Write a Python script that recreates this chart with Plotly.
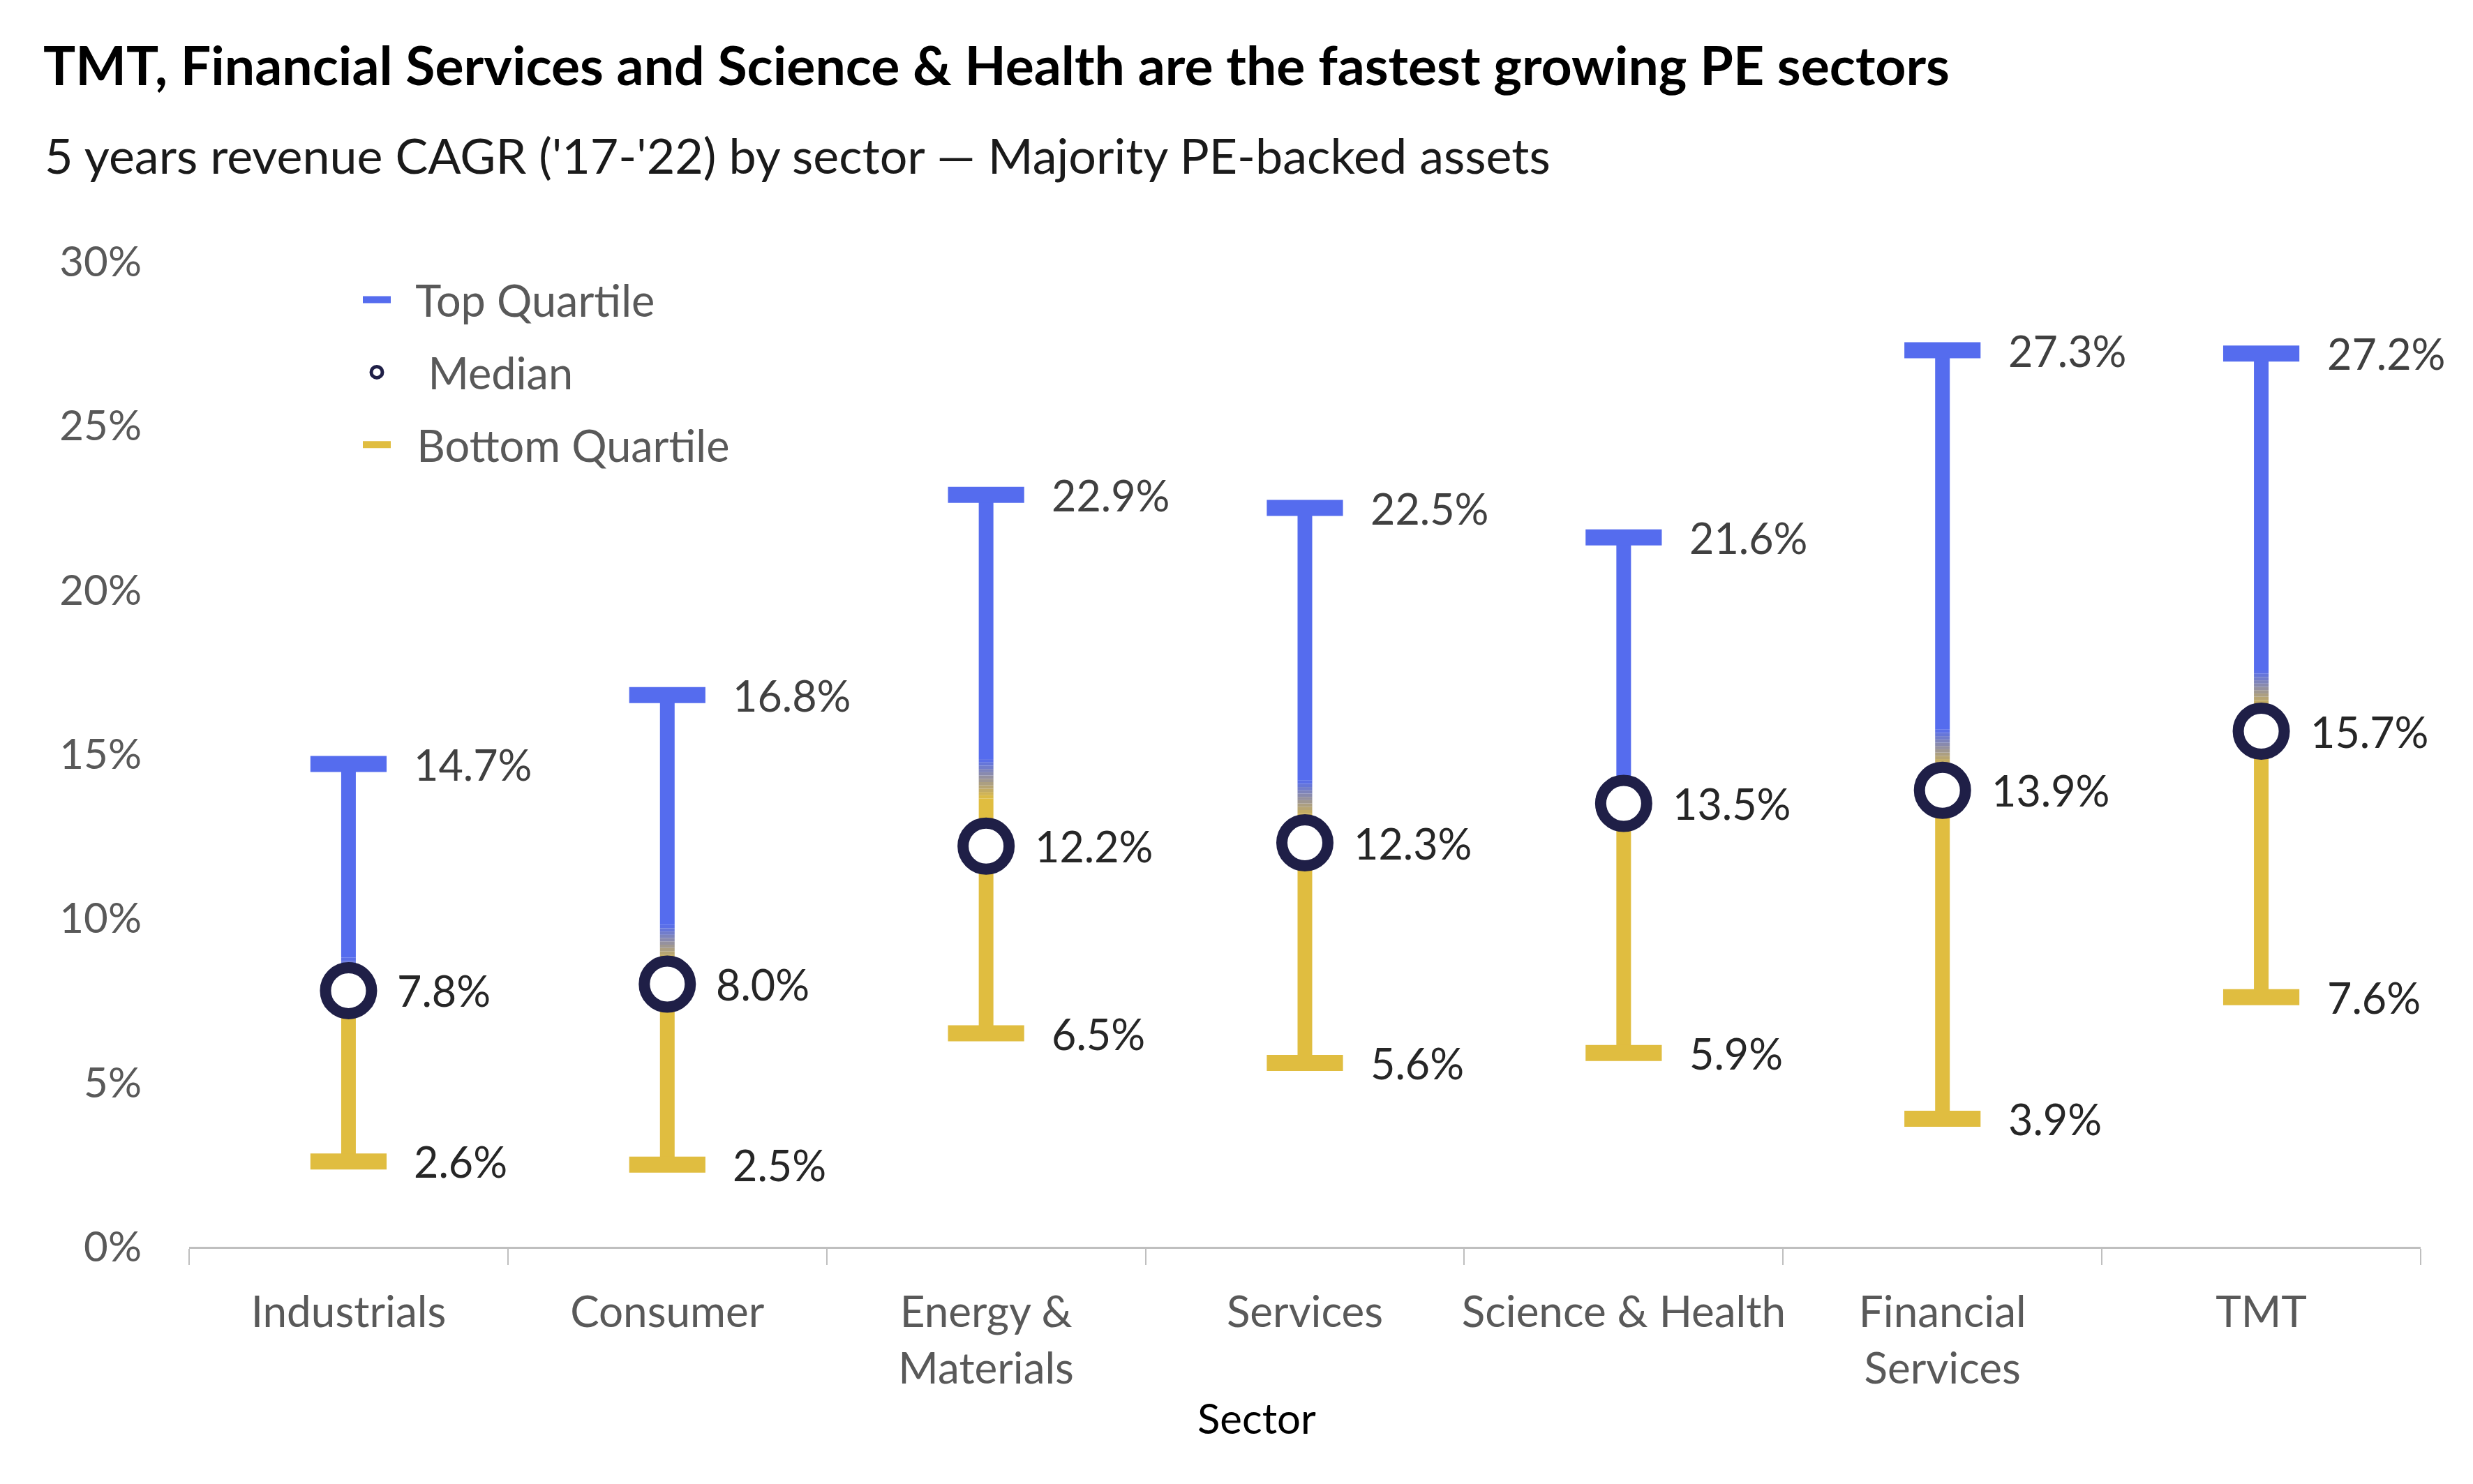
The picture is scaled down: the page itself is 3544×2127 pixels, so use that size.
import plotly.graph_objects as go

# ---- data ----
sectors = ["Industrials", "Consumer", "Energy &<br>Materials", "Services",
           "Science & Health", "Financial<br>Services", "TMT"]
top_quartile = [14.7, 16.8, 22.9, 22.5, 21.6, 27.3, 27.2]
median = [7.8, 8.0, 12.2, 12.3, 13.5, 13.9, 15.7]
bottom_quartile = [2.6, 2.5, 6.5, 5.6, 5.9, 3.9, 7.6]
y_ticks = [0, 5, 10, 15, 20, 25, 30]

BLUE = (0x55, 0x6C, 0xEE)
YELLOW = (0xE0, 0xBD, 0x40)
NAVY = "#1F1F47"
GRAY = "#595959"
FONT = "Lato"


def rgb(c):
    return "rgb(%d,%d,%d)" % tuple(int(round(v)) for v in c)


# page has an 8px body margin, so the figure is 16px smaller than the window
W, H = 3528, 2111
ML, MR, MT, MB = 263, 67, 367, 332
PW, PH = W - ML - MR, H - MT - MB

# blue/yellow colour blend zone around the mid-point of each whisker (styling)
GRAD_LO, GRAD_HI, NSTEP = 1.05, 0.15, 12


def segs(a, b):
    xs, ys = [], []
    for s, v1, v2 in zip(sectors, a, b):
        xs += [s, s, None]
        ys += [v1, v2, None]
    return xs, ys


mids = [(t + b) / 2 for t, b in zip(top_quartile, bottom_quartile)]
g0 = [m - GRAD_LO for m in mids]
g1 = [m + GRAD_HI for m in mids]

fig = go.Figure()

bx, by = segs(g1, top_quartile)
fig.add_trace(go.Scatter(x=bx, y=by, mode="lines", name="\u00a0\u00a0Top Quartile",
                         line=dict(color=rgb(BLUE), width=21), legendrank=1,
                         legendgroup="top", hoverinfo="skip", cliponaxis=False))
yx, yy = segs(bottom_quartile, g0)
fig.add_trace(go.Scatter(x=yx, y=yy, mode="lines", name="\u00a0\u00a0Bottom Quartile",
                         line=dict(color=rgb(YELLOW), width=21), legendrank=3,
                         legendgroup="bot", hoverinfo="skip", cliponaxis=False))
# colour blend between the two halves
for k in range(NSTEP):
    f = (k + 0.5) / NSTEP
    col = tuple(YELLOW[i] + (BLUE[i] - YELLOW[i]) * f for i in range(3))
    lo = [a + (b - a) * k / NSTEP for a, b in zip(g0, g1)]
    hi = [a + (b - a) * (k + 1) / NSTEP for a, b in zip(g0, g1)]
    gx, gy = segs(lo, hi)
    fig.add_trace(go.Scatter(x=gx, y=gy, mode="lines", showlegend=False,
                             line=dict(color=rgb(col), width=21),
                             hoverinfo="skip", cliponaxis=False))
# caps
fig.add_trace(go.Scatter(x=sectors, y=top_quartile, mode="markers", showlegend=False,
                         marker=dict(symbol="line-ew", size=78,
                                     line=dict(color=rgb(BLUE), width=23)),
                         cliponaxis=False))
fig.add_trace(go.Scatter(x=sectors, y=bottom_quartile, mode="markers", showlegend=False,
                         marker=dict(symbol="line-ew", size=78,
                                     line=dict(color=rgb(YELLOW), width=23)),
                         cliponaxis=False))
# medians
fig.add_trace(go.Scatter(x=sectors, y=median, mode="markers",
                         name="\u00a0\u00a0\u00a0Median",
                         legendrank=2, legendgroup="med",
                         marker=dict(symbol="circle", size=66, color="white",
                                     line=dict(color=NAVY, width=16)),
                         cliponaxis=False))

annotations = []
for s, t, m, b in zip(sectors, top_quartile, median, bottom_quartile):
    annotations.append(dict(x=s, y=t, text=f"{t:.1f}%", showarrow=False,
                            xanchor="left", yanchor="middle", xshift=92,
                            font=dict(family=FONT, size=61, color="#404040")))
    annotations.append(dict(x=s, y=m, text=f"{m:.1f}%", showarrow=False,
                            xanchor="left", yanchor="middle", xshift=68,
                            font=dict(family=FONT, size=61, color="#262626")))
    annotations.append(dict(x=s, y=b, text=f"{b:.1f}%", showarrow=False,
                            xanchor="left", yanchor="middle", xshift=92,
                            font=dict(family=FONT, size=61, color="#262626")))

annotations.append(dict(
    text="5 years revenue CAGR ('17-'22) by sector \u2014 Majority PE-backed assets",
    xref="paper", yref="paper", x=-(ML - 54) / PW,
    y=1 + (MT - 214) / PH, xanchor="left", yanchor="middle",
    showarrow=False, font=dict(family=FONT, size=70, color="#1a1a1a")))
# x-axis title
annotations.append(dict(
    text="Sector", xref="paper", yref="paper", x=(1793 - ML) / PW,
    y=-(2024 - (H - MB)) / PH, xanchor="center", yanchor="middle",
    showarrow=False, font=dict(family=FONT, size=60, color="#000000")))

fig.update_layout(
    width=W, height=H,
    margin=dict(l=ML, r=MR, t=MT, b=MB, autoexpand=False),
    paper_bgcolor="white", plot_bgcolor="white",
    title=dict(text="<b>TMT, Financial Services and Science & Health are the fastest growing PE sectors</b>",
               x=54 / W, xanchor="left", xref="container",
               y=1 - 87 / H, yanchor="middle", yref="container",
               font=dict(family=FONT, size=77, color="#000000")),
    font=dict(family=FONT, size=60, color=GRAY),
    showlegend=True,
    legend=dict(x=(507 - ML) / PW, y=0.995, xanchor="left", yanchor="top",
                bgcolor="rgba(0,0,0,0)", tracegroupgap=19, itemwidth=40,
                font=dict(family=FONT, size=63, color=GRAY)),
    annotations=annotations,
    xaxis=dict(type="category", categoryorder="array", categoryarray=sectors,
               range=[-0.5, len(sectors) - 0.5],
               showline=True, linecolor="#BFBFBF", linewidth=3,
               ticks="outside", tickson="boundaries", ticklen=23, tickwidth=2,
               tickcolor="#BFBFBF", showgrid=False, zeroline=False,
               tickangle=0, automargin=False,
               tickfont=dict(family=FONT, size=62, color=GRAY),
               ticklabelstandoff=38),
    yaxis=dict(range=[0, 30], tickmode="array", tickvals=y_ticks,
               ticktext=[f"{v}%" for v in y_ticks], showgrid=False,
               zeroline=False, showline=False, ticks="", automargin=False,
               ticklabelstandoff=67,
               tickfont=dict(family=FONT, size=60, color=GRAY)),
)

fig.write_html("out.html")
